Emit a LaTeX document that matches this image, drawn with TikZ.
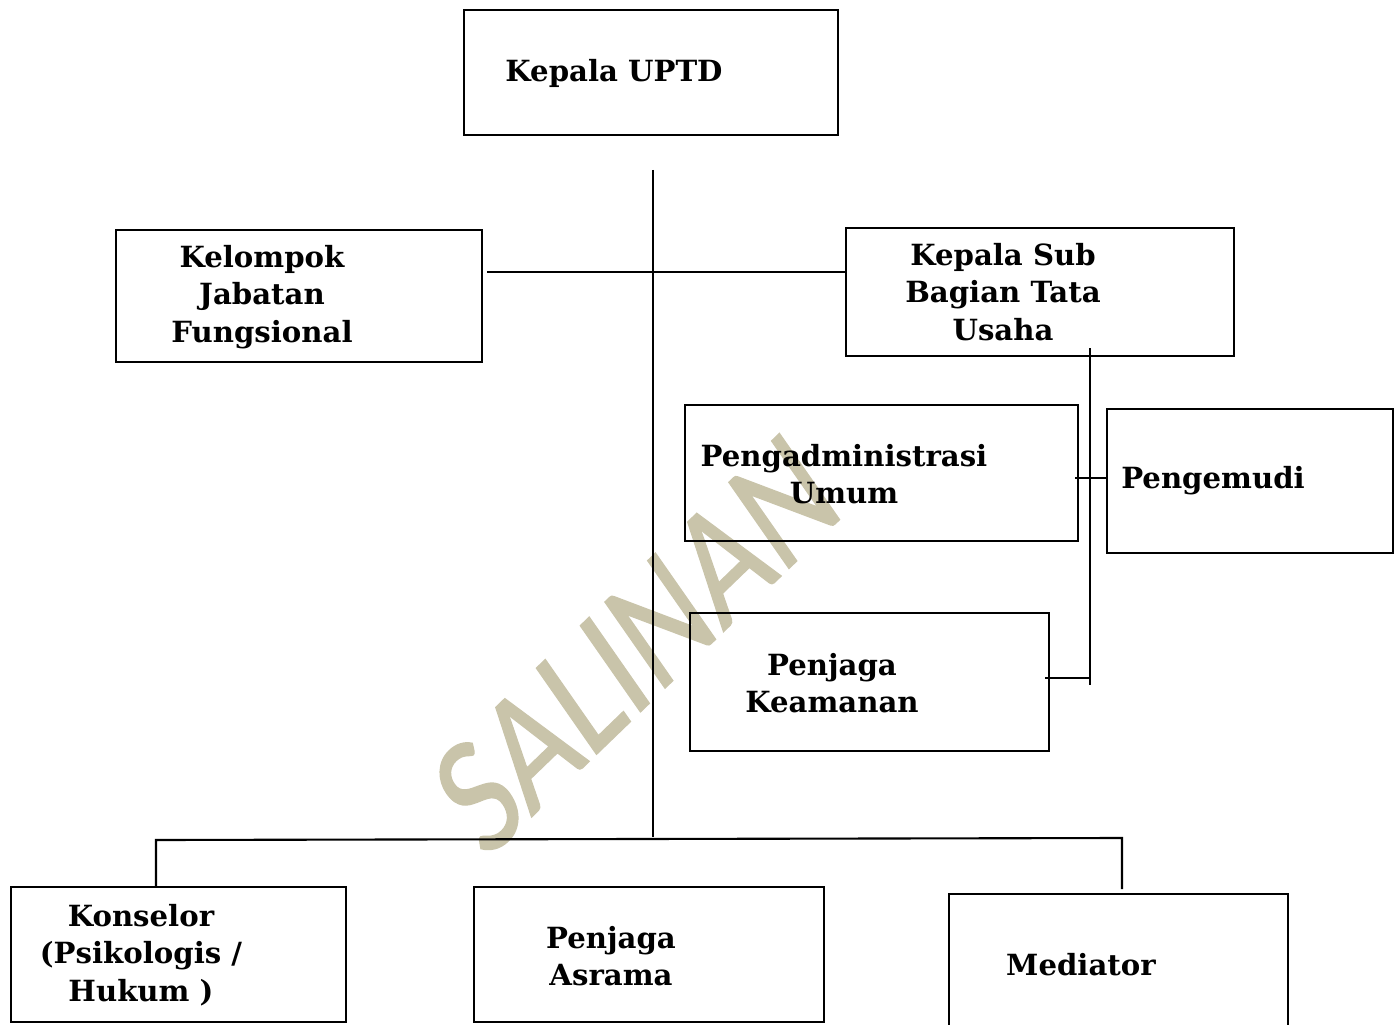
\documentclass[tikz,border=0pt]{standalone}
\usepackage{fontspec}
\setmainfont{DejaVu Serif}
\newfontfamily\wmfont[FakeBold=0.8]{Carlito}
\definecolor{wmkhaki}{RGB}{201,196,170}
\tikzset{
  box/.style ={draw, line width=0.7pt, inner sep=0pt},
  tx/.style  ={align=center, font=\bfseries\fontsize{8.3}{10.7}\selectfont},
  ln/.style  ={line width=0.6pt},
  wm/.style  ={text=wmkhaki, font=\wmfont\fontsize{46}{46}\selectfont,
               rotate=44, xslant=0.16, xscale=0.87}
}

\begin{document}
\begin{tikzpicture}
\useasboundingbox (0,0) rectangle (14,-10.25);
% watermark behind everything
\node[wm] (wmark) at (6.36,-6.44) {SALINAN};

% head
\node[box, minimum width=3.74cm, minimum height=1.25cm] (kepala) at (6.51,-0.725) {};
\node[tx] (kepala-t) at (6.14,-0.73) {Kepala UPTD};

% second row
\node[box, minimum width=3.66cm, minimum height=1.32cm] (kjf) at (2.99,-2.96) {};
\node[tx] (kjf-t) at (2.62,-2.97) {Kelompok\\Jabatan\\Fungsional};
\node[box, minimum width=3.88cm, minimum height=1.28cm] (ksub) at (10.40,-2.92) {};
\node[tx] (ksub-t) at (10.03,-2.92) {Kepala Sub\\Bagian Tata\\Usaha};

% under the sub bagian
\node[box, minimum width=3.93cm, minimum height=1.36cm] (adm) at (8.815,-4.73) {};
\node[tx] (adm-t) at (8.44,-4.74) {Pengadministrasi\\Umum};
\node[box, minimum width=2.86cm, minimum height=1.44cm] (drv) at (12.50,-4.81) {};
\node[tx] (drv-t) at (12.13,-4.81) {Pengemudi};
\node[box, minimum width=3.59cm, minimum height=1.38cm] (sec) at (8.695,-6.82) {};
\node[tx] (sec-t) at (8.32,-6.83) {Penjaga\\Keamanan};

% bottom row
\node[box, minimum width=3.35cm, minimum height=1.35cm] (kons) at (1.785,-9.545) {};
\node[tx] (kons-t) at (1.41,-9.55) {Konselor\\(Psikologis /\\Hukum )};
\node[box, minimum width=3.50cm, minimum height=1.35cm] (asr) at (6.49,-9.545) {};
\node[tx] (asr-t) at (6.11,-9.56) {Penjaga\\Asrama};
\node[box, minimum width=3.39cm, minimum height=1.46cm] (med) at (11.185,-9.67) {};
\node[tx] (med-t) at (10.81,-9.65) {Mediator};

% lines
\coordinate (spineTop) at (6.53,-1.70);
\coordinate (spineBot) at (6.53,-8.37);
\draw[ln] (spineTop) -- (spineBot);
\draw[ln] ([shift={(0.04,0.24)}]kjf.east) -- ([shift={(0.02,0.20)}]ksub.west);

\coordinate (subTop) at (10.90,-3.48);
\coordinate (subBot) at (10.90,-6.85);
\draw[ln] (subTop) -- (subBot);
\draw[ln] ([xshift=-0.04cm, yshift=-0.05cm]adm.east) -- ([yshift=-0.05cm]adm.east -| drv.west);
\draw[ln] ([xshift=-0.05cm, yshift=0.04cm]sec.east) -- ([yshift=0.04cm]sec.east -| subBot);

\coordinate (busL) at (1.56,-8.40);
\coordinate (busR) at (11.22,-8.38);
\draw[ln] (busL |- kons.north) -- (busL) -- (busR) -- ([yshift=-0.51cm]busR);
\end{tikzpicture}
\end{document}
